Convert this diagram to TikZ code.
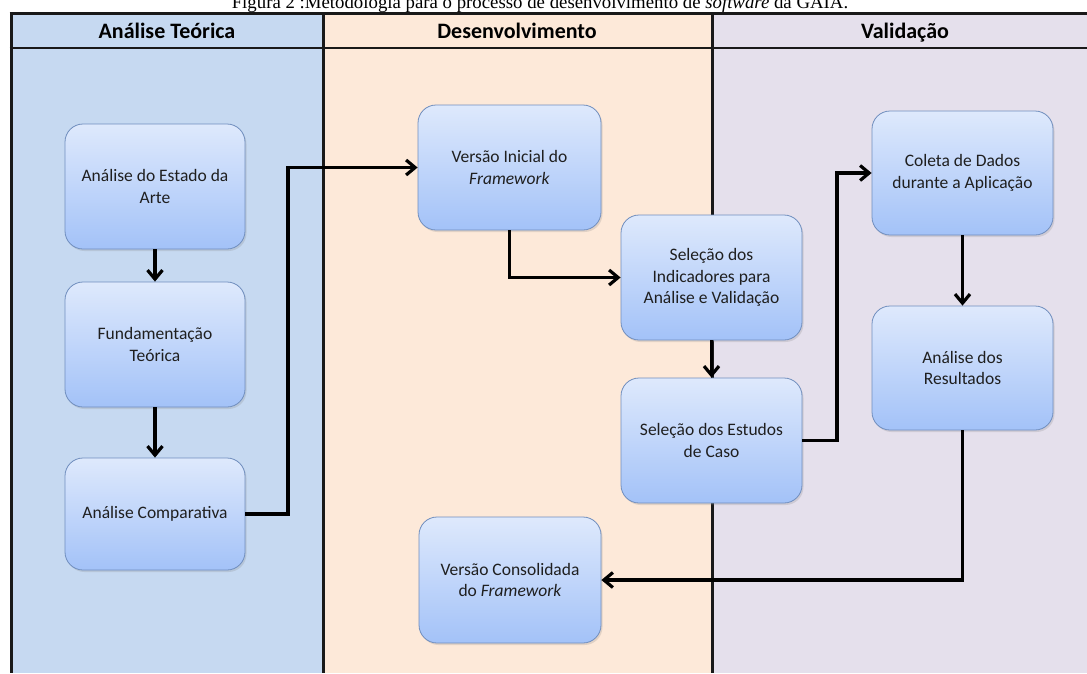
\documentclass[tikz,border=0pt]{standalone}
\usepackage{fontspec}
\setmainfont{Liberation Serif}
\newfontfamily\calibri{Carlito}
\usetikzlibrary{arrows.meta,shadows}
\definecolor{laneA}{RGB}{198,217,241}
\definecolor{laneB}{RGB}{253,233,217}
\definecolor{laneC}{RGB}{229,224,236}
\definecolor{boxtop}{RGB}{222,233,252}
\definecolor{boxbot}{RGB}{163,194,248}
\definecolor{boxborder}{RGB}{112,142,190}
\begin{document}
\begin{tikzpicture}[x=1pt,y=-1pt,
  flowbox/.style={draw=boxborder, line width=0.8pt, rounded corners=18pt,
    top color=boxtop, bottom color=boxbot, align=center, text=black!88,
    font=\calibri\fontsize{17.5}{21.5}\selectfont, inner sep=3pt,
    drop shadow={opacity=0.22,shadow xshift=1.5pt,shadow yshift=-2pt}},
  conn/.style={line width=3.2pt, -{Straight Barb[length=9pt,width=15pt]}},
  lanehead/.style={font=\calibri\bfseries\fontsize{22}{24}\selectfont, anchor=base},
  laneline/.style={line width=3pt, draw=black!90}
]
\useasboundingbox (0,0) rectangle (1087,673);
\fill[white] (0,0) rectangle (1087,673);
\fill[laneA] (11,13) rectangle (323,673);
\fill[laneB] (323,13) rectangle (712,673);
\fill[laneC] (712,13) rectangle (1087,673);
\draw[laneline] (11,12) -- (11,673);
\draw[laneline] (323,12) -- (323,673);
\draw[laneline] (712,12) -- (712,673);
\draw[line width=2.5pt, black!90] (9.5,13.5) -- (1087,13.5);
\draw[line width=2.5pt, black!90] (9.5,48) -- (1087,48);

\node[font=\fontsize{18.8}{20}\selectfont, anchor=base] (title) at (540,8.5)
  {Figura 2 :Metodologia para o processo de desenvolvimento de \textit{software} da GAIA.};

\node[lanehead] (hA) at (167,38) {Análise Teórica};
\node[lanehead] (hB) at (517,38) {Desenvolvimento};
\node[lanehead] (hC) at (905,38) {Validação};

\node[flowbox, minimum width=180pt, minimum height=125pt] (b1) at (155,186.5) {Análise do Estado da\\Arte};
\node[flowbox, minimum width=180pt, minimum height=125pt] (b2) at (155,344.5) {Fundamentação\\Teórica};
\node[flowbox, minimum width=180pt, minimum height=112pt] (b3) at (155,514) {Análise Comparativa};
\node[flowbox, minimum width=183pt, minimum height=125pt] (b4) at (509.5,167.5) {Versão Inicial do\\\textit{Framework}};
\node[flowbox, minimum width=181pt, minimum height=125pt] (b5) at (711.5,277.5) {Seleção dos\\Indicadores para\\Análise e Validação};
\node[flowbox, minimum width=181pt, minimum height=125pt] (b6) at (711.5,440.5) {Seleção dos Estudos\\de Caso};
\node[flowbox, minimum width=182pt, minimum height=126pt] (b7) at (510,580) {Versão Consolidada\\do \textit{Framework}};
\node[flowbox, minimum width=181pt, minimum height=124pt] (b8) at (962.5,173) {Coleta de Dados\\durante a Aplicação};
\node[flowbox, minimum width=181pt, minimum height=124pt] (b9) at (962.5,368) {Análise dos\\Resultados};

\coordinate (k1) at (288,514);
\coordinate (k2) at (837,440.5);
\draw[conn] (b1.south) -- (b2.north);
\draw[conn] (b2.south) -- (b3.north);
\draw[conn] (b3.east) -- (k1) |- (b4.west);
\draw[conn] (b4.south) |- (b5.west);
\draw[conn] (b5.south) -- (b6.north);
\draw[conn] (b6.east) -- (k2) |- (b8.west);
\draw[conn] (b8.south) -- (b9.north);
\draw[conn] (b9.south) |- (b7.east);
\end{tikzpicture}
\end{document}
